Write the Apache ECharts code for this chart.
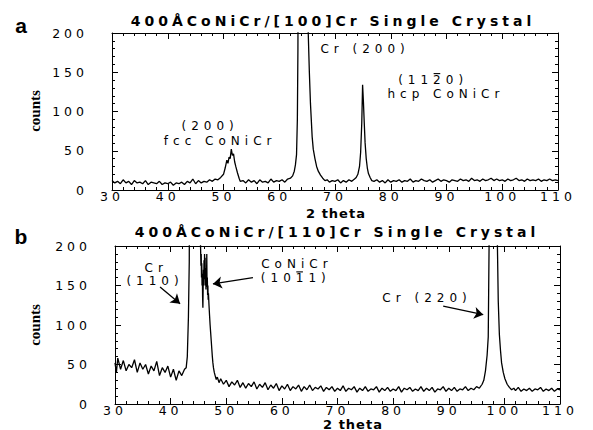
<!DOCTYPE html>
<html>
<head>
<meta charset="utf-8">
<script src="https://cdn.jsdelivr.net/npm/echarts@6/dist/echarts.min.js"></script>
<style>
  html, body { margin: 0; padding: 0; background: #fff; }
  #chart { width: 593px; height: 430px; }
  /* the scan uses a wide, letter-spaced face; spacing picked per text size */
  #chart text[style*="14px"] { letter-spacing: 4px; }   /* titles */
  #chart text[style*="12.5px"] { letter-spacing: 4px; } /* tick labels */
  #chart text[style*="12px"] { letter-spacing: 5px; }   /* peak notes */
  #chart text[style*="13px"] { letter-spacing: 1px; }   /* 2 theta */
</style>
</head>
<body>
<div id="chart"></div>
<script>
// panel a: 400ÅCoNiCr/[100]Cr
const thetaA = [30,30.5,31,31.5,32,32.5,33,33.5,34,34.5,35,35.5,36,36.5,37,37.5,38,38.5,39,39.5,
  40,40.5,41,41.5,42,42.5,43,43.5,44,44.5,45,45.5,46,46.5,47,47.5,48,48.5,49,49.5,
  50,50.3,50.6,50.8,51,51.2,51.4,51.6,51.8,52,52.2,52.5,52.8,53,53.5,54,54.5,55,55.5,56,
  56.5,57,57.5,58,58.5,59,59.5,60,60.5,61,61.5,62,62.4,62.7,62.9,63.1,63.25,63.35,63.5,64.3,
  65,65.2,65.4,65.6,65.9,66.1,66.4,66.7,67,67.4,67.8,68.2,68.6,69,69.5,70,70.5,71,71.5,72,
  72.5,73,73.5,73.8,74.1,74.4,74.6,74.8,74.95,75.1,75.25,75.4,75.6,75.8,76,76.3,76.6,77,77.5,78,
  78.5,79,79.5,80,80.5,81,81.5,82,82.5,83,83.5,84,84.5,85,85.5,86,86.5,87,87.5,88,
  88.5,89,89.5,90,90.5,91,91.5,92,92.5,93,93.5,94,94.5,95,95.5,96,96.5,97,97.5,98,
  98.5,99,99.5,100,100.5,101,101.5,102,102.5,103,103.5,104,104.5,105,105.5,106,106.5,107,107.5,108,
  108.5,109,109.5,110];
const countsA = [12,9,11,8,13,9,11,7,12,9,10,8,12,7,10,9,8,11,7,9,
  8,10,6,9,8,10,7,11,9,14,8,12,9,11,10,13,11,14,13,16,
  20,28,38,34,42,40,52,44,46,36,30,22,15,11,12,9,13,10,12,8,
  13,10,11,9,14,10,12,11,13,10,14,15,18,24,32,45,90,180,600,3000,
  500,200,150,110,68,52,40,30,24,19,15,12,13,10,12,11,13,9,12,10,
  13,11,14,16,20,30,48,85,134,112,85,60,40,28,21,16,12,11,13,10,
  12,9,13,10,12,11,13,10,12,11,14,10,12,11,14,12,11,13,10,12,
  14,11,13,12,10,13,12,11,14,12,13,11,15,12,13,11,14,12,13,15,
  12,14,12,13,11,14,12,13,15,12,13,11,14,12,13,12,14,11,13,12,
  14,12,13,12];

// panel b: 400ÅCoNiCr/[110]Cr
const thetaB = [30,30.25,30.5,31,31.5,32,32.5,33,33.5,34,34.5,35,35.5,36,36.5,37,37.5,38,38.5,39,
  39.5,40,40.5,41,41.5,42,42.5,42.8,43,43.2,43.35,43.5,44.4,45.25,45.35,45.45,45.5,45.55,45.6,45.65,
  45.7,45.75,45.8,45.85,45.9,45.95,46,46.05,46.1,46.15,46.2,46.25,46.3,46.35,46.4,46.45,46.5,46.55,46.6,46.65,
  46.7,46.75,46.8,46.9,47,47.1,47.2,47.3,47.4,47.5,47.6,47.7,47.85,48,48.2,48.4,48.7,49,49.5,50,
  50.5,51,51.5,52,52.5,53,53.5,54,54.5,55,55.5,56,56.5,57,57.5,58,58.5,59,59.5,60,
  60.5,61,61.5,62,62.5,63,63.5,64,64.5,65,65.5,66,66.5,67,67.5,68,68.5,69,69.5,70,
  70.5,71,71.5,72,72.5,73,73.5,74,74.5,75,75.5,76,76.5,77,77.5,78,78.5,79,79.5,80,
  80.5,81,81.5,82,82.5,83,83.5,84,84.5,85,85.5,86,86.5,87,87.5,88,88.5,89,89.5,90,
  90.5,91,91.5,92,92.5,93,93.5,94,94.5,95,95.5,96,96.3,96.6,96.9,97.1,97.25,97.4,97.9,98.6,
  98.75,98.9,99.1,99.3,99.5,99.8,100.1,100.5,100.9,101.3,101.7,102,102.5,103,103.5,104,104.5,105,105.5,106,
  106.5,107,107.5,108,108.5,109,109.5,110];
const countsB = [52,40,58,44,55,42,50,46,56,40,52,44,50,38,48,42,54,36,46,40,
  48,34,44,30,42,36,44,46,60,110,180,500,3000,400,210,175,190,160,178,150,
  165,135,122,148,170,150,182,158,190,162,185,150,172,145,168,150,190,148,160,138,
  150,132,140,125,112,100,90,80,70,60,52,46,40,36,31,34,27,32,25,30,
  22,28,24,30,21,27,20,26,22,28,19,25,21,27,18,24,20,26,17,23,
  19,25,17,22,19,24,16,22,18,24,17,21,19,23,16,21,18,22,16,20,
  17,23,16,20,18,22,15,20,17,22,16,19,18,22,15,20,17,21,16,19,
  17,22,15,20,18,21,16,19,17,22,16,20,17,21,15,19,18,22,16,20,
  17,21,16,19,18,22,17,20,18,22,20,25,30,42,62,85,200,800,3000,600,
  200,130,88,68,52,40,32,25,21,18,20,17,21,16,19,17,20,16,19,18,
  21,16,19,17,20,16,19,18];

// x tick range / y tick range
const thetaTicks = [30, 110, 10];
const countTicks = [0, 200, 50];

// annotations, in data coordinates; bar = index of the char carrying an overbar
const textsA = [
  { text: '(200)', at: [47.6, 81] },
  { text: 'fcc CoNiCr', at: [49.4, 62] },
  { text: 'Cr (200)', at: [75.4, 180] },
  { text: '(1120)', at: [87.6, 140], bar: 3 },
  { text: 'hcp CoNiCr', at: [89.9, 122] }
];
const textsB = [
  { text: 'Cr', at: [37.4, 172] },
  { text: '(110)', at: [37.2, 156] },
  { text: 'CoNiCr', at: [62.7, 177] },
  { text: '(1011)', at: [62.5, 159], bar: 3 },
  { text: 'Cr (220)', at: [86.1, 134] }
];
const arrowsB = [
  [[38.1, 148], [41.7, 127]],
  [[54.8, 160], [47.6, 152]],
  [[89.0, 124], [96.2, 113]]
];

const pairs = (xs, ys) => xs.map((x, i) => [x, ys[i]]);

const chart = echarts.init(document.getElementById('chart'), null, { renderer: 'svg' });

const tickFont = { fontFamily: 'DejaVu Sans', fontSize: 12.5, color: '#000', lineHeight: 11 };

const xAxisOf = (gridIndex, top) => ({
  type: 'value', gridIndex, position: top ? 'top' : 'bottom',
  min: thetaTicks[0], max: thetaTicks[1], interval: thetaTicks[2],
  axisLine: { show: true, onZero: false, lineStyle: { color: '#000', width: 1 } },
  axisTick: { show: true, inside: true, length: 6, lineStyle: { color: '#000' } },
  minorTick: { show: true, splitNumber: 5, length: 3, lineStyle: { color: '#000' } },
  splitLine: { show: false },
  axisLabel: top ? { show: false } : Object.assign({ margin: 1, showMinLabel: true, showMaxLabel: true }, tickFont)
});
const yAxisOf = (gridIndex, right) => ({
  type: 'value', gridIndex, position: right ? 'right' : 'left',
  min: countTicks[0], max: countTicks[1], interval: countTicks[2],
  axisLine: { show: true, onZero: false, lineStyle: { color: '#000', width: 1 } },
  axisTick: { show: true, inside: true, length: 6, lineStyle: { color: '#000' } },
  minorTick: { show: true, splitNumber: 5, length: 3, lineStyle: { color: '#000' } },
  splitLine: { show: false },
  axisLabel: right ? { show: false } : Object.assign({ margin: 24 }, tickFont)
});

const lineSeries = (idx, data) => ({
  type: 'line', xAxisIndex: idx * 2, yAxisIndex: idx * 2,
  data, showSymbol: false, symbol: 'none', clip: true,
  lineStyle: { color: '#000', width: 1.3 },
  animation: false
});

chart.setOption({
  animation: false,
  backgroundColor: '#fff',
  grid: [
    { left: 112, top: 33, width: 446, height: 157 },
    { left: 115, top: 246, width: 445, height: 158 }
  ],
  xAxis: [xAxisOf(0, false), xAxisOf(0, true), xAxisOf(1, false), xAxisOf(1, true)],
  yAxis: [yAxisOf(0, false), yAxisOf(0, true), yAxisOf(1, false), yAxisOf(1, true)],
  series: [
    lineSeries(0, pairs(thetaA, countsA)),
    Object.assign(lineSeries(1, pairs(thetaB, countsB)), {
      markLine: {
        silent: true, animation: false,
        symbol: ['none', 'arrow'], symbolSize: 9,
        lineStyle: { color: '#000', width: 1.3, type: 'solid' },
        itemStyle: { color: '#000' },
        label: { show: false },
        emphasis: { disabled: true },
        data: arrowsB.map(a => [{ coord: a[0] }, { coord: a[1] }])
      }
    })
  ]
});

// fixed texts plus annotations placed through the axes
const txt = (x, y, text, style, extra) => Object.assign({
  type: 'text', x, y,
  style: Object.assign({ text, fill: '#000', align: 'center', verticalAlign: 'middle' }, style)
}, extra || {});

const titleStyle = { fontFamily: 'DejaVu Sans', fontWeight: 'bold', fontSize: 14 };
const noteStyle = { fontFamily: 'DejaVu Sans', fontSize: 12 };
const noteSpacing = 5;
const xNameStyle = { fontFamily: 'DejaVu Sans', fontWeight: 'bold', fontSize: 13, lineHeight: 11 };
const yNameStyle = { fontFamily: 'Liberation Sans Narrow', fontWeight: 'bold', fontSize: 15 };
const panelStyle = { fontFamily: 'Liberation Sans', fontWeight: 'bold', fontSize: 21 };

// overbar for Miller-Bravais index: find the char's place in the spaced text
const meas = document.createElement('canvas').getContext('2d');
meas.font = '12px "DejaVu Sans"';
const overbar = (text, i, cx, cy) => {
  const total = meas.measureText(text).width + text.length * noteSpacing;
  const x0 = cx - total / 2 + meas.measureText(text.slice(0, i)).width + i * noteSpacing;
  const w = meas.measureText(text[i]).width;
  return { type: 'line', shape: { x1: x0 + 0.5, y1: cy - 6.5, x2: x0 + w - 0.5, y2: cy - 6.5 },
    style: { stroke: '#000', lineWidth: 1.1 } };
};

const notes = [];
[[textsA, 0], [textsB, 1]].forEach(([list, g]) => {
  list.forEach(t => {
    const p = chart.convertToPixel({ gridIndex: g }, t.at);
    notes.push(txt(p[0], p[1], t.text, noteStyle));
    if (t.bar !== undefined) notes.push(overbar(t.text, t.bar, p[0], p[1]));
  });
});

chart.setOption({
  graphic: [
    txt(21, 25, 'a', panelStyle),
    txt(21, 236, 'b', panelStyle),
    txt(333, 21, '400ÅCoNiCr/[100]Cr Single Crystal', titleStyle),
    txt(337, 232, '400ÅCoNiCr/[110]Cr Single Crystal', titleStyle),
    txt(336, 213, '2 theta', xNameStyle),
    txt(353, 424, '2 theta', xNameStyle),
    txt(35, 111, 'counts', yNameStyle, { rotation: Math.PI / 2 }),
    txt(35, 325, 'counts', yNameStyle, { rotation: Math.PI / 2 })
  ].concat(notes)
});
</script>
</body>
</html>
